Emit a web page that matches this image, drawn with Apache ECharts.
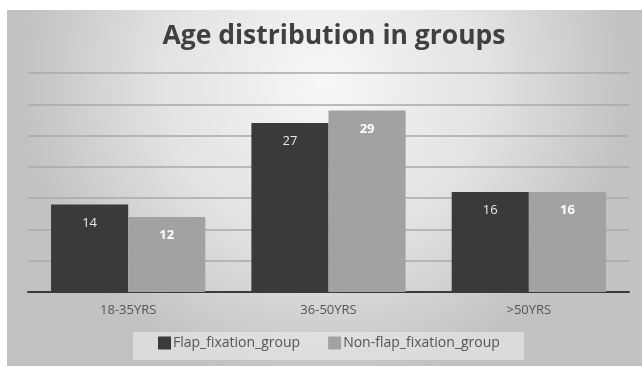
<!DOCTYPE html>
<html><head><meta charset="utf-8">
<script src="https://cdn.jsdelivr.net/npm/echarts@6/dist/echarts.min.js"></script>
<style>html,body{margin:0;padding:0;background:#fff}#c{width:642px;height:366px}</style>
</head><body><div id="c"></div>
<script>
const categories = ['18-35YRS', '36-50YRS', '>50YRS'];
const flapValues = [14, 27, 16];
const nonFlapValues = [12, 29, 16];
const seriesNames = ['Flap_fixation_group', 'Non-flap_fixation_group'];
const titleText = 'Age distribution in groups';

const chart = echarts.init(document.getElementById('c'), null, {renderer: 'canvas'});
chart.setOption({
  animation: false,
  graphic: [{
    type: 'rect', z: -10, silent: true,
    shape: {x: 7, y: 10, width: 635, height: 356},
    style: {fill: new echarts.graphic.RadialGradient(0.5, 0.2, 0.85, [
      {offset: 0, color: '#f7f7f7'}, {offset: 0.55, color: '#e2e2e2'}, {offset: 1, color: '#c2c2c2'}])}
  }, {
    type: 'rect', z: -5, silent: true,
    shape: {x: 133, y: 332, width: 391, height: 28},
    style: {fill: 'rgba(235,235,235,0.6)'}
  }],
  title: {
    text: titleText, top: 18, left: 329, textAlign: 'center',
    textStyle: {fontFamily: 'Open Sans', fontWeight: 'bold', fontSize: 26.5, color: '#404040'}
  },
  legend: {
    data: seriesNames, bottom: 11, left: 153, itemWidth: 13, itemHeight: 13, itemGap: 28,
    icon: 'rect',
    textStyle: {fontFamily: 'Open Sans', fontSize: 14, color: '#555', padding: [0,0,0,-3]}
  },
  grid: {left: 28, right: 13, top: 73, bottom: 74},
  xAxis: {
    type: 'category', data: categories,
    axisLine: {lineStyle: {color: '#3a3a3a', width: 2}},
    axisTick: {show: false},
    axisLabel: {fontFamily: 'Open Sans', fontSize: 13, color: '#555', margin: 12}
  },
  yAxis: {
    type: 'value', min: 0, max: 35, interval: 5,
    axisLabel: {show: false}, axisLine: {show: false}, axisTick: {show: false},
    splitLine: {lineStyle: {color: '#a9a9a9', width: 1.5}}
  },
  series: [{
    name: seriesNames[0], type: 'bar', data: flapValues,
    barGap: '0%', barCategoryGap: '23%',
    itemStyle: {color: '#3a3a3a'},
    label: {show: true, position: 'insideTop', distance: 12, color: '#e8e8e8', fontFamily: 'Open Sans', fontSize: 13}
  }, {
    name: seriesNames[1], type: 'bar', data: nonFlapValues,
    itemStyle: {color: '#a2a2a2'},
    label: {show: true, position: 'insideTop', distance: 12, color: '#fff', fontFamily: 'Open Sans', fontWeight: 'bold', fontSize: 13}
  }]
});
</script></body></html>
